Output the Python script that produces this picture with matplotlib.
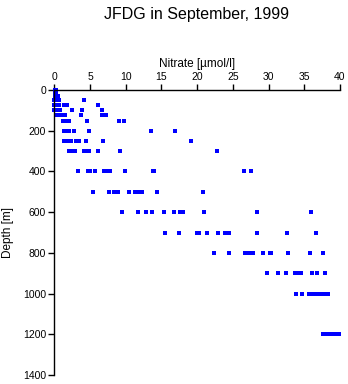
import matplotlib
matplotlib.use("Agg")
import matplotlib.pyplot as plt

plt.rcParams['font.family'] = ['Liberation Sans', 'DejaVu Sans']

depth_levels = [0, 10, 20, 30, 50, 75, 100, 125, 150, 200, 250, 300,
                400, 500, 600, 700, 800, 900, 1000, 1200]
nitrate_by_level = [
    [0.1, 0.2, 0.3],
    [0.1, 0.3],
    [0.1, 0.2],
    [0.1, 0.3, 0.5],
    [0.0, 0.2, 0.4, 0.6, 4.1],
    [0.0, 0.3, 0.6, 1.3, 1.6, 1.8, 6.15],
    [0.0, 0.3, 0.5, 0.8, 2.5, 3.9, 6.7],
    [0.3, 0.6, 0.9, 1.2, 1.5, 3.7, 6.7, 7.3],
    [1.2, 1.5, 1.8, 2.1, 4.6, 9.1, 9.8],
    [1.3, 1.6, 1.9, 2.1, 2.7, 4.8, 13.6, 16.9],
    [1.35, 1.7, 2.0, 2.3, 3.1, 3.4, 4.5, 6.85, 19.2],
    [2.0, 2.3, 2.5, 2.9, 4.2, 4.5, 4.8, 6.15, 9.2, 22.8],
    [3.36, 4.7, 5.0, 5.7, 7.0, 7.4, 7.8, 9.9, 13.85, 14.0, 26.6, 27.5],
    [5.45, 7.7, 8.35, 8.65, 8.95, 10.5, 11.3, 11.55, 11.75, 12.3, 14.4, 20.8],
    [9.5, 11.75, 12.8, 13.7, 15.4, 16.8, 17.6, 17.8, 18.0, 20.9, 28.4, 35.9],
    [15.5, 17.5, 20.0, 20.3, 21.4, 22.9, 23.9, 24.2, 24.5, 28.35, 32.6, 36.6],
    [22.3, 24.5, 26.7, 27.2, 27.5, 27.75, 29.2, 30.2, 30.35, 32.7, 35.8, 37.6],
    [29.8, 31.3, 32.4, 33.7, 34.0, 34.3, 34.6, 36.1, 36.8, 37.9],
    [33.9, 34.7, 35.6, 36.1, 36.6, 36.9, 37.3, 37.8, 38.1, 38.3],
    [37.6, 37.9, 38.2, 38.6, 38.8, 39.1, 39.5, 39.9],
]
x_ticks = [0, 5, 10, 15, 20, 25, 30, 35, 40]
y_ticks = [0, 200, 400, 600, 800, 1000, 1200, 1400]

depth = []
nitrate = []
for d, vals in zip(depth_levels, nitrate_by_level):
    for v in vals:
        depth.append(d)
        nitrate.append(v)

fig = plt.figure(figsize=(3.48, 3.84), dpi=100)
ax = fig.add_axes([54.3/348, 1 - 375/384, (340 - 54.3)/348, (375 - 90)/384])

ax.plot(nitrate, depth, linestyle='none', marker='s', markersize=2.2,
        color='#0000ff', markeredgewidth=0, clip_on=False)

ax.set_xlim(0, 40)
ax.set_ylim(1400, 0)
ax.set_xticks(x_ticks)
ax.set_yticks(y_ticks)
ax.xaxis.tick_top()
ax.xaxis.set_label_position('top')
for s in ['right', 'bottom']:
    ax.spines[s].set_visible(False)
for s in ['top', 'left']:
    ax.spines[s].set_linewidth(1.0)
ax.tick_params(axis='x', direction='out', length=4.5, width=1.0, labelsize=7.5, pad=1.5)
ax.tick_params(axis='y', direction='out', length=4, width=1.0, labelsize=7.5, pad=2)
ax.set_xlabel('Nitrate [µmol/l]', fontsize=8.5, labelpad=3)
ax.set_ylabel('Depth [m]', fontsize=8.5, labelpad=6)

fig.text(197/348, 1 - 15/384, 'JFDG in September, 1999', ha='center', va='center', fontsize=11.5)

fig.savefig('out.png', dpi=100)
